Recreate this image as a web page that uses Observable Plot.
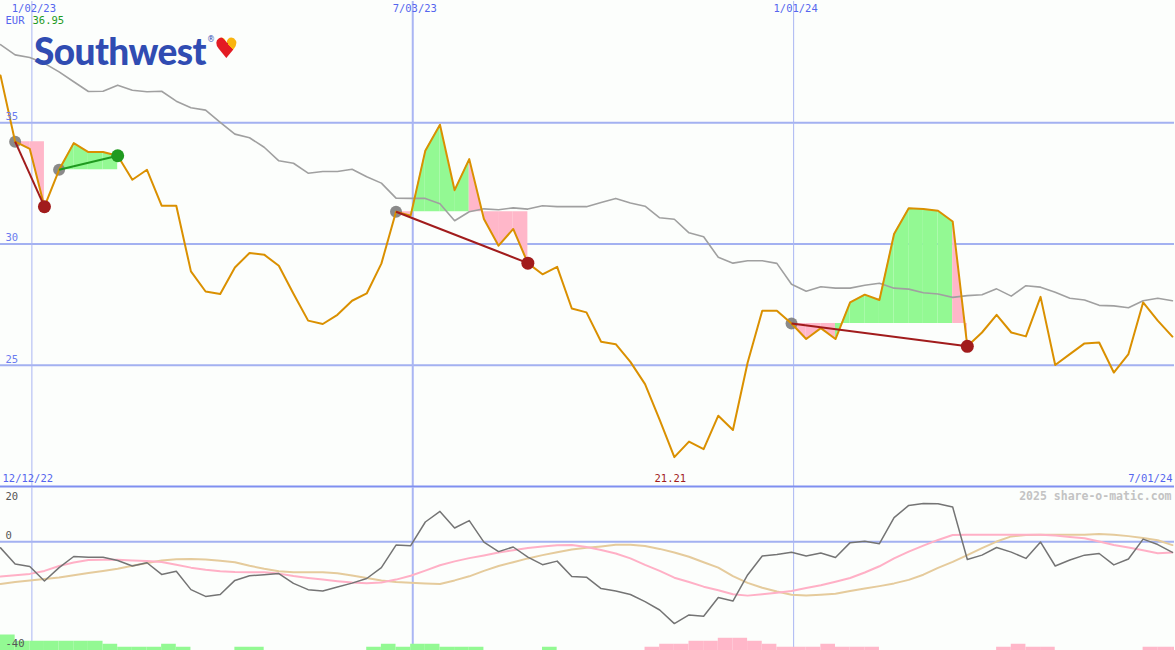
<!DOCTYPE html>
<html>
<head>
<meta charset="utf-8">
<script src="https://cdn.jsdelivr.net/npm/d3@7"></script>
<script src="https://cdn.jsdelivr.net/npm/@observablehq/plot@0.6"></script>
<style>
  html, body { margin: 0; padding: 0; background: #fcfefc; }
  #wrap { position: relative; width: 1175px; height: 650px; overflow: hidden; background: #fcfefc; }
  #wrap svg { display: block; }
  .logo-part { position: absolute; white-space: nowrap; }
  #logoWord { left: 34px; top: 36px; font: 900 37px "Lato", "Open Sans", sans-serif; color: #304cb2;
          letter-spacing: -0.6px; line-height: 30px; }
  #logoReg { left: 207px; top: 36px; font: 400 8px "DejaVu Sans", sans-serif; color: #304cb2; line-height: 8px; }
  #logoHeart { left: 214px; top: 35px; font: 28px "DejaVu Sans", sans-serif; line-height: 28px;
          background: linear-gradient(to top right, #304cb2 0 24%, #e31c23 24% 62%, #f9b40f 62%);
          -webkit-background-clip: text; background-clip: text; color: transparent; }
</style>
</head>
<body>
<div id="wrap">
  <div id="pricePanel"></div>
  <div id="indicatorPanel"></div>
  <span id="logoWord" class="logo-part">Southwest</span>
  <span id="logoReg" class="logo-part">®</span>
  <span id="logoHeart" class="logo-part">♥</span>
</div>
<script>
// ---------- data (weekly) ----------
const dates = d3.utcWeek.range(new Date("2022-12-18T00:00:00Z"), new Date("2024-07-01T00:00:00Z"));

const close = [
  36.95, 34.22, 33.92, 31.54, 33.06, 34.16, 33.79, 33.79, 33.64, 32.65,
  33.06, 31.58, 31.58, 28.87, 28.04, 27.94, 29.03, 29.63, 29.56, 29.10,
  27.95, 26.84, 26.70, 27.08, 27.66, 27.96, 29.19, 31.33, 31.17, 33.85,
  34.92, 32.22, 33.50, 31.03, 29.93, 30.62, 29.21, 28.75, 29.06, 27.34,
  27.18, 25.97, 25.87, 25.14, 24.22, 22.75, 21.21, 21.85, 21.54, 22.92,
  22.33, 25.10, 27.25, 27.25, 26.72, 26.08, 26.53, 26.08, 27.59, 27.91,
  27.69, 30.41, 31.47, 31.44, 31.37, 30.93, 25.78, 26.35, 27.08, 26.35,
  26.19, 27.82, 25.01, 25.46, 25.90, 25.94, 24.70, 25.46, 27.59, 26.84,
  26.18
];

const average = [
  38.22, 37.80, 37.69, 37.45, 37.10, 36.69, 36.29, 36.30, 36.55, 36.34,
  36.28, 36.30, 35.89, 35.62, 35.52, 35.02, 34.53, 34.38, 33.99, 33.43,
  33.33, 32.92, 32.99, 32.99, 33.08, 32.77, 32.51, 31.89, 31.88, 31.88,
  31.66, 30.96, 31.33, 31.45, 31.41, 31.49, 31.44, 31.58, 31.54, 31.54,
  31.54, 31.71, 31.88, 31.69, 31.56, 31.08, 31.02, 30.46, 30.30, 29.45,
  29.21, 29.31, 29.31, 29.20, 28.34, 28.05, 28.24, 28.18, 28.18, 28.30,
  28.38, 28.18, 28.14, 27.99, 27.94, 27.80, 27.87, 27.91, 28.15, 27.85,
  28.28, 28.22, 28.01, 27.76, 27.69, 27.47, 27.45, 27.37, 27.66, 27.76,
  27.66
];

const momentum = [
  -2.2, -8.2, -9.1, -14.4, -9.5, -5.4, -5.7, -5.7, -6.9, -8.9,
  -7.7, -12.0, -10.8, -17.6, -20.1, -19.4, -14.2, -12.5, -12.1, -11.7,
  -15.3, -17.6, -18.1, -16.6, -15.2, -13.5, -9.5, -1.2, -1.4, 7.3,
  11.2, 5.1, 7.8, -0.1, -3.6, -1.9, -5.6, -8.4, -7.1, -12.8,
  -13.0, -17.2, -18.1, -19.4, -22.0, -25.1, -30.1, -26.9, -27.4, -20.5,
  -21.8, -12.2, -5.2, -4.7, -3.8, -5.2, -4.1, -5.8, -0.3, 0.2,
  -0.7, 8.9, 13.4, 14.1, 14.0, 12.8, -6.5, -4.9, -2.1, -3.8,
  -6.1, -0.1, -8.9, -6.7, -4.9, -4.3, -8.5, -6.3, 1.0, -1.0,
  -3.9
];

const signalFast = [
  -12.8, -12.3, -11.8, -10.7, -8.9, -7.6, -6.7, -6.6, -6.6, -6.9,
  -7.1, -7.4, -8.4, -9.5, -10.3, -10.8, -11.1, -11.2, -11.2, -11.7,
  -12.6, -13.3, -13.9, -14.5, -15.0, -15.2, -15.0, -13.9, -12.5, -10.6,
  -8.6, -7.2, -6.0, -5.0, -3.9, -3.1, -2.3, -1.7, -1.3, -1.2,
  -1.9, -3.0, -4.3, -6.1, -8.5, -10.7, -13.2, -14.8, -16.5, -17.8,
  -19.3, -19.8, -19.3, -18.7, -18.1, -17.0, -16.0, -14.7, -13.3, -11.3,
  -9.0, -6.1, -3.6, -1.4, 0.7, 2.5, 2.6, 2.6, 2.6, 2.6,
  2.6, 2.6, 2.3, 1.8, 1.3, 0.1, -1.2, -2.1, -3.1, -4.2,
  -3.9
];

const signalSlow = [
  -15.5, -14.8, -14.2, -13.7, -13.1, -12.3, -11.5, -10.7, -9.9, -8.8,
  -7.8, -6.9, -6.4, -6.3, -6.5, -7.0, -7.5, -8.8, -9.9, -10.8,
  -11.2, -11.2, -11.2, -11.6, -12.4, -13.3, -14.2, -14.8, -15.1, -15.3,
  -15.5, -14.2, -12.7, -10.7, -8.9, -7.5, -6.1, -4.9, -3.8, -2.8,
  -2.2, -1.7, -1.1, -1.1, -1.5, -2.6, -3.9, -5.5, -7.5, -9.5,
  -12.6, -15.1, -16.9, -18.3, -19.5, -19.8, -19.5, -19.1, -18.1, -17.2,
  -16.3, -15.3, -14.0, -12.1, -9.6, -7.4, -4.9, -2.3, 0.1, 2.0,
  2.5, 2.6, 2.6, 2.6, 2.6, 2.9, 2.6, 2.1, 1.4, 0.6,
  -1.2
];

// histogram at the bottom: positive = green, negative = pink
const histogram = [
  5.7, 3.4, 3.4, 3.4, 3.4, 3.4, 3.4, 2.3, 1.2, 1.2,
  1.2, 2.3, 1.2, 0, 0, 0, 1.2, 1.2, 0, 0,
  0, 0, 0, 0, 0, 1.2, 2.3, 1.2, 2.3, 2.3,
  1.2, 1.2, 1.2, 0, 0, 0, 0, 1.2, 0, 0,
  0, 0, 0, 0, -1.2, -2.3, -2.3, -3.4, -3.4, -4.5,
  -4.5, -3.4, -2.3, -1.2, -1.2, -1.2, -2.3, -1.2, -1.2, -1.2,
  0, 0, 0, 0, 0, 0, 0, 0, -1.2, -2.3,
  -1.2, -1.2, 0, 0, 0, 0, 0, 0, -1.2, -1.2,
  -1.2
];

// trade signals (indices into the weekly series)
const signalStarts = [1, 4, 27, 54];
const signalEnds   = [3, 8, 36, 66];
const signalKinds  = ["sell", "buy", "sell", "sell"];

const gridDates  = [new Date("2023-01-02T00:00:00Z"), new Date("2023-07-03T00:00:00Z"), new Date("2024-01-01T00:00:00Z")];
const gridLabels = ["1/02/23", "7/03/23", "1/01/24"];
const priceTicks = [35, 30, 25];
const currency = "EUR";
const windowStart = "12/12/22";
const windowEnd = "7/01/24";
const credit = "2025 share-o-matic.com";

// ---------- derived tables ----------
const rows = dates.map((d, i) => ({
  date: d, close: close[i], average: average[i], momentum: momentum[i],
  fast: signalFast[i], slow: signalSlow[i], hist: histogram[i],
  next: i + 1 < dates.length ? dates[i + 1] : d3.utcWeek.offset(d, 1)
}));

const signals = signalStarts.map((s, j) => ({
  start: s, end: signalEnds[j], kind: signalKinds[j],
  d1: dates[s], v1: close[s], d2: dates[signalEnds[j]], v2: close[signalEnds[j]]
}));

const fillRows = [];
signals.forEach((s, j) => {
  const base = close[s.start];
  for (let i = s.start; i < s.end; i++) {
    const up = close[i + 1] >= base;
    const seg = `${j}-${i}`;
    fillRows.push({seg, up, date: dates[i], base, v: close[i]});
    fillRows.push({seg, up, date: dates[i + 1], base, v: close[i + 1]});
  }
});

const minRow = rows.reduce((a, b) => (b.close < a.close ? b : a));

const xScale = {type: "utc", domain: [new Date("2022-12-18T00:00:00Z"), new Date("2024-07-01T00:00:00Z")], axis: null};
const FONT = "'DejaVu Sans Mono', monospace";
const BLUE_TXT = "#5566ee";
const GRID = "#a3b1f1";
const VGRID = "#aab6f3";

// ---------- main price panel ----------
const priceChart = Plot.plot({
  width: 1175, height: 487,
  marginTop: 1, marginBottom: 1, marginLeft: 0, marginRight: 1,
  x: xScale,
  y: {domain: [20, 40], axis: null},
  style: {background: "#fcfefc", fontFamily: FONT, fontSize: "10.5px", overflow: "visible"},
  marks: [
    Plot.ruleY(priceTicks, {stroke: GRID, strokeWidth: 2}),
    Plot.ruleX(gridDates.filter((d, i) => i !== 1), {stroke: VGRID, strokeWidth: 1}),
    Plot.ruleX(gridDates.filter((d, i) => i === 1), {stroke: VGRID, strokeWidth: 2}),
    Plot.areaY(fillRows.filter(d => d.up), {x: "date", y1: "base", y2: "v", z: "seg", fill: "#93f993"}),
    Plot.areaY(fillRows.filter(d => !d.up), {x: "date", y1: "base", y2: "v", z: "seg", fill: "#ffb7c9"}),
    Plot.line(rows, {x: "date", y: "average", stroke: "#a0a0a0", strokeWidth: 1.6}),
    Plot.dot(signals, {x: "d1", y: "v1", r: 6, fill: "#7d7d7d", fillOpacity: 0.9}),
    Plot.line(rows, {x: "date", y: "close", stroke: "#da9000", strokeWidth: 2}),
    Plot.link(signals.filter(s => s.kind === "sell"), {x1: "d1", y1: "v1", x2: "d2", y2: "v2", stroke: "#a11c1c", strokeWidth: 2}),
    Plot.link(signals.filter(s => s.kind === "buy"), {x1: "d1", y1: "v1", x2: "d2", y2: "v2", stroke: "#1f9a1f", strokeWidth: 2}),
    Plot.dot(signals.filter(s => s.kind === "sell"), {x: "d2", y: "v2", r: 6.5, fill: "#a11c1c"}),
    Plot.dot(signals.filter(s => s.kind === "buy"), {x: "d2", y: "v2", r: 6.5, fill: "#1f9a1f"}),
    Plot.ruleY([20], {stroke: "#7f8ff0", strokeWidth: 2}),
    // labels
    Plot.text(gridDates, {x: d => d, text: (d, i) => gridLabels[i], frameAnchor: "top", lineAnchor: "middle", dy: 7, dx: 2, fill: BLUE_TXT}),
    Plot.text([currency], {frameAnchor: "top-left", lineAnchor: "middle", dx: 5, dy: 19, textAnchor: "start", fill: BLUE_TXT}),
    Plot.text([close[0]], {frameAnchor: "top-left", lineAnchor: "middle", dx: 32, dy: 19, textAnchor: "start", text: d => d.toFixed(2), fill: "#1f9a1f"}),
    Plot.text(priceTicks, {y: d => d, text: d => String(d), frameAnchor: "left", lineAnchor: "middle", dx: 5, dy: -6, textAnchor: "start", fill: "#6a7cf0"}),
    Plot.text([windowStart], {frameAnchor: "bottom-left", lineAnchor: "middle", dx: 2, dy: -8, textAnchor: "start", fill: BLUE_TXT}),
    Plot.text([windowEnd], {frameAnchor: "bottom-right", lineAnchor: "middle", dx: -2, dy: -8, textAnchor: "end", fill: BLUE_TXT}),
    Plot.text([minRow], {x: "date", text: d => d.close.toFixed(2), frameAnchor: "bottom", lineAnchor: "middle", dy: -8, dx: -4, fill: "#a11c1c"})
  ]
});

// ---------- lower indicator panel ----------
const indicatorChart = Plot.plot({
  width: 1175, height: 163,
  marginTop: 0, marginBottom: 0, marginLeft: 0, marginRight: 1,
  x: xScale,
  y: {domain: [-40, 20], axis: null},
  style: {background: "#fcfefc", fontFamily: FONT, fontSize: "10.5px", overflow: "hidden"},
  marks: [
    Plot.ruleY([0], {stroke: GRID, strokeWidth: 2}),
    Plot.ruleX(gridDates.filter((d, i) => i !== 1), {stroke: VGRID, strokeWidth: 1}),
    Plot.ruleX(gridDates.filter((d, i) => i === 1), {stroke: VGRID, strokeWidth: 2}),
    Plot.rect(rows.filter(d => d.hist > 0), {x1: "date", x2: "next", y1: -40, y2: d => -40 + d.hist, fill: "#93f993", clip: true}),
    Plot.rect(rows.filter(d => d.hist < 0), {x1: "date", x2: "next", y1: -40, y2: d => -40 - d.hist, fill: "#ffb7c9", clip: true}),
    Plot.line(rows, {x: "date", y: "slow", stroke: "#e5cb9c", strokeWidth: 2}),
    Plot.line(rows, {x: "date", y: "fast", stroke: "#ffb0c6", strokeWidth: 2}),
    Plot.line(rows, {x: "date", y: "momentum", stroke: "#747474", strokeWidth: 1.5}),
    Plot.text(["20"], {frameAnchor: "top-left", lineAnchor: "middle", dx: 5, dy: 9, textAnchor: "start", fill: "#555"}),
    Plot.text([0], {y: d => d, text: d => String(d), frameAnchor: "left", lineAnchor: "middle", dx: 5, dy: -6, textAnchor: "start", fill: "#555"}),
    Plot.text(["-40"], {frameAnchor: "bottom-left", lineAnchor: "middle", dx: 5, dy: -7, textAnchor: "start", fill: "#555"}),
    Plot.text([credit], {frameAnchor: "top-right", lineAnchor: "middle", dx: -3, dy: 9, textAnchor: "end", fill: "#c3c3c3", fontWeight: "bold", fontSize: 11.5})
  ]
});

document.getElementById("pricePanel").appendChild(priceChart);
document.getElementById("indicatorPanel").appendChild(indicatorChart);
</script>
</body>
</html>
